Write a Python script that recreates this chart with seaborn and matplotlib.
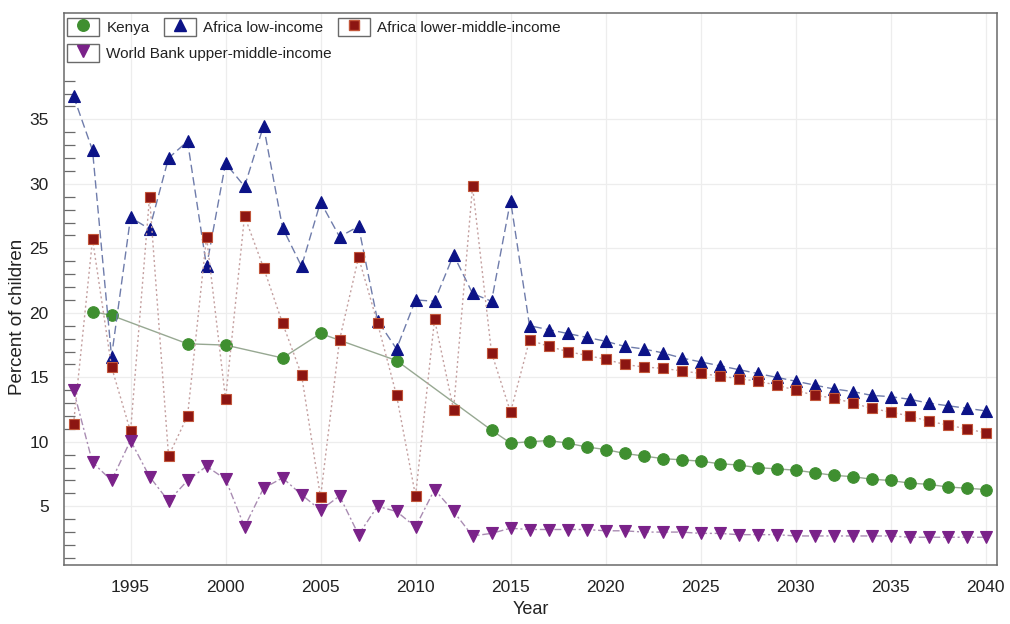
import numpy as np
import pandas as pd
import matplotlib
matplotlib.use("Agg")
import matplotlib.pyplot as plt
import matplotlib.patches as mpatches
from matplotlib.lines import Line2D
from matplotlib.legend_handler import HandlerTuple
from matplotlib.ticker import FixedLocator
import seaborn as sns

# ---- data -------------------------------------------------------------
years = list(range(1992, 2041))

kenya_years = [1993, 1994, 1998, 2000, 2003, 2005, 2009, 2014] + list(range(2015, 2041))
kenya = [20.1, 19.8, 17.6, 17.5, 16.5, 18.4, 16.3, 10.9,
         9.9, 10.0, 10.1, 9.9, 9.6, 9.4, 9.1, 8.9, 8.7, 8.6, 8.5, 8.3, 8.2,
         8.0, 7.9, 7.8, 7.6, 7.4, 7.3, 7.1, 7.0, 6.8, 6.7, 6.5, 6.4, 6.3]

africa_low = [36.8, 32.6, 16.6, 27.4, 26.5, 32.0, 33.3, 23.6, 31.6, 29.8,
              34.5, 26.6, 23.6, 28.6, 25.9, 26.7, 19.4, 17.2, 21.0, 20.9,
              24.5, 21.5, 20.9, 28.7, 19.0, 18.7, 18.4, 18.1, 17.8, 17.4,
              17.2, 16.9, 16.5, 16.2, 15.9, 15.6, 15.3, 15.0, 14.7, 14.4,
              14.1, 13.9, 13.6, 13.5, 13.3, 13.0, 12.8, 12.6, 12.4]

africa_lmi = [11.4, 25.7, 15.8, 10.8, 29.0, 8.9, 12.0, 25.9, 13.3, 27.5,
              23.5, 19.2, 15.2, 5.7, 17.9, 24.3, 19.2, 13.6, 5.8, 19.5,
              12.5, 29.8, 16.9, 12.3, 17.9, 17.4, 17.0, 16.7, 16.4, 16.0,
              15.8, 15.7, 15.5, 15.3, 15.1, 14.9, 14.7, 14.4, 14.0, 13.6,
              13.4, 13.0, 12.6, 12.3, 12.0, 11.6, 11.3, 11.0, 10.7]

wb_umi = [14.0, 8.4, 7.0, 10.1, 7.3, 5.4, 7.0, 8.1, 7.1, 3.4,
          6.4, 7.2, 5.9, 4.7, 5.8, 2.8, 5.0, 4.6, 3.4, 6.3,
          4.6, 2.7, 2.9, 3.3, 3.2, 3.2, 3.2, 3.2, 3.1, 3.1,
          3.0, 3.0, 3.0, 2.9, 2.9, 2.8, 2.8, 2.8, 2.7, 2.7,
          2.7, 2.7, 2.7, 2.7, 2.6, 2.6, 2.6, 2.6, 2.6]

labels = ["Kenya", "Africa low-income", "Africa lower-middle-income",
          "World Bank upper-middle-income"]
x_ticks = [1995, 2000, 2005, 2010, 2015, 2020, 2025, 2030, 2035, 2040]
y_ticks = [5, 10, 15, 20, 25, 30, 35]

# ---- styling ----------------------------------------------------------
sns.set_theme(style="white")
plt.rcParams["font.family"] = ["Liberation Sans", "DejaVu Sans"]

series = [
    dict(x=kenya_years, y=kenya, label=labels[0], marker="o", ms=8.3,
         face="#3f8f30", edge="#3f8f30", line="#97a892", ls="-"),
    dict(x=years, y=africa_low, label=labels[1], marker="^", ms=8.7,
         face="#0c1387", edge="#0c1387", line="#6f7cab", ls=(0, (6, 3))),
    dict(x=years, y=africa_lmi, label=labels[2], marker="s", ms=7.7,
         face="#8c1512", edge="#c2563a", line="#c4a0a0", ls=(0, (1.5, 2))),
    dict(x=years, y=wb_umi, label=labels[3], marker="v", ms=8.7,
         face="#7a2289", edge="#7a2289", line="#a98cb2", ls=(0, (5, 2, 1.5, 2))),
]

fig = plt.figure(figsize=(10.1, 6.24), dpi=100)
ax = fig.add_axes([0.0634, 0.0946, 0.9237, 0.8846])

for i, s in enumerate(series):
    df = pd.DataFrame({"Year": s["x"], "value": s["y"]})
    sns.lineplot(data=df, x="Year", y="value", ax=ax, color=s["line"],
                 linewidth=1.0, linestyle=s["ls"], marker=s["marker"],
                 markersize=s["ms"], markerfacecolor=s["face"],
                 markeredgecolor=s["edge"], markeredgewidth=0.8,
                 estimator=None, zorder=3 + i)

ax.set_xlim(1991.5, 2040.6)
ax.set_ylim(0.45, 43.25)

ax.xaxis.set_major_locator(FixedLocator(x_ticks))
ax.yaxis.set_major_locator(FixedLocator(y_ticks))
ax.yaxis.set_minor_locator(FixedLocator(list(range(1, 39))))

ax.grid(True, which="major", color="#ededed", linewidth=0.9, zorder=0)
ax.set_axisbelow(True)

for sp in ax.spines.values():
    sp.set_color("#6a6a6a")
    sp.set_linewidth(1.1)
    sp.set_visible(True)

ax.tick_params(axis="x", which="major", direction="out", length=11, width=1.0,
               color="#6a6a6a", labelsize=12.5, pad=0, labelcolor="#222222")
ax.tick_params(axis="y", which="major", direction="out", length=8, width=1.0,
               color="#6a6a6a", labelsize=12.5, pad=3, labelcolor="#222222")
ax.tick_params(axis="y", which="minor", direction="in", length=8, width=0.9,
               color="#6a6a6a", left=True)

ax.set_xlabel("Year", fontsize=13, color="#222222", labelpad=4)
ax.set_ylabel("Percent of children", fontsize=13.5, color="#222222",
              labelpad=2, y=0.45)

# ---- legend: framed symbol boxes, laid out in two rows -------------------
def make_handle(s):
    box = mpatches.Patch(facecolor="white", edgecolor="#6a6a6a", linewidth=1.0)
    mk = Line2D([], [], linestyle="none", marker=s["marker"], markersize=s["ms"],
                markerfacecolor=s["face"], markeredgecolor=s["edge"])
    return (box, mk)

leg_kw = dict(frameon=False, fontsize=11.0, handlelength=2.1, handleheight=1.45,
              handletextpad=0.45, columnspacing=0.95, borderaxespad=0,
              borderpad=0.22, loc="upper left",
              handler_map={tuple: HandlerTuple(ndivide=1, pad=0)})

leg1 = ax.legend([make_handle(s) for s in series[:3]], labels[:3], ncol=3,
                 bbox_to_anchor=(0.0, 1.0 - 2 / 552), **leg_kw)
for t in leg1.get_texts():
    t.set_color("#222222")
ax.add_artist(leg1)

leg2 = ax.legend([make_handle(series[3])], labels[3:], ncol=1,
                 bbox_to_anchor=(0.0, 1.0 - 28 / 552), **leg_kw)
for t in leg2.get_texts():
    t.set_color("#222222")

fig.savefig("out.png", dpi=100)
